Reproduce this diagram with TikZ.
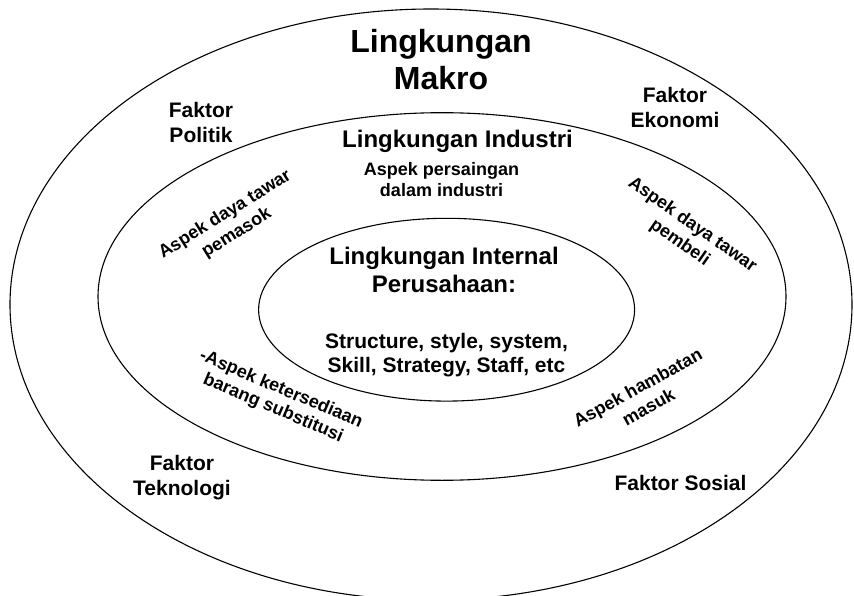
\documentclass[tikz,border=0pt]{standalone}
\usepackage{fontspec}
\setmainfont{Liberation Sans}
\begin{document}
\begin{tikzpicture}[x=1pt,y=-1pt,
  ring/.style={draw=black,line width=1.1pt},
  lbl/.style={font=\bfseries,align=center,inner sep=0pt,text=black}]
\useasboundingbox (0,0) rectangle (854,596);
\clip (0,0) rectangle (854,596);
\fill[white] (0,0) rectangle (854,596);
% rings
\draw[ring] (431,304.6) ellipse [x radius=421pt, y radius=295.6pt];
\draw[ring] (442,296.5) ellipse [x radius=344pt, y radius=183.8pt];
\draw[ring] (446.6,309.7) ellipse [x radius=188pt, y radius=91.4pt];
% macro
\node[lbl,font=\bfseries\fontsize{32}{37}\selectfont] (makro) at (441,59.8) {Lingkungan\\Makro};
\node[lbl,font=\bfseries\fontsize{21}{25.5}\selectfont] (politik) at (201,122.6) {Faktor\\Politik};
\node[lbl,font=\bfseries\fontsize{21}{25}\selectfont] (ekonomi) at (675,107) {Faktor\\Ekonomi};
\node[lbl,font=\bfseries\fontsize{21}{25}\selectfont] (teknologi) at (182,478) {Faktor\\Teknologi};
\node[lbl,font=\bfseries\fontsize{21}{25}\selectfont,anchor=base] (sosial) at (680.5,490) {Faktor Sosial};
% industry
\node[lbl,font=\bfseries\fontsize{24}{28}\selectfont,anchor=base] (industri) at (457.5,148) {Lingkungan Industri};
\node[lbl,font=\bfseries\fontsize{18}{21}\selectfont] (persaingan) at (441.5,180) {Aspek persaingan\\dalam industri};
\node[lbl,font=\bfseries\fontsize{18}{22}\selectfont,rotate=32] (pemasok) at (231,224) {Aspek daya tawar\\pemasok};
\node[lbl,font=\bfseries\fontsize{18}{22}\selectfont,rotate=-35] (pembeli) at (686,234) {Aspek daya tawar\\pembeli};
\node[lbl,font=\bfseries\fontsize{18}{20.5}\selectfont,rotate=-23] (substitusi) at (277,399) {-Aspek ketersediaan\\barang substitusi};
\node[lbl,font=\bfseries\fontsize{18}{22}\selectfont,rotate=29] (hambatan) at (643,397) {Aspek hambatan\\masuk};
% internal
\node[lbl,font=\bfseries\fontsize{24}{28}\selectfont] (internal) at (444,270.3) {Lingkungan Internal\\Perusahaan:};
\node[lbl,font=\bfseries\fontsize{21}{24.5}\selectfont] (seven) at (446.5,354.9) {Structure, style, system,\\Skill, Strategy, Staff, etc};
\end{tikzpicture}
\end{document}
